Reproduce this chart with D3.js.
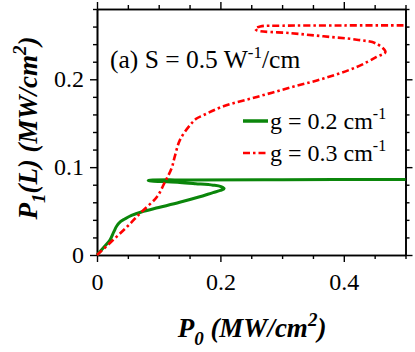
<!DOCTYPE html>
<html><head><meta charset="utf-8">
<script src="https://cdn.jsdelivr.net/npm/d3@7"></script>
<style>
body{margin:0;background:#fff}
svg{display:block}
text{font-family:"Liberation Serif","Times New Roman",serif;fill:#000}
</style>
</head><body>
<svg id="c" width="415" height="352"></svg>
<script>
// ---- data ----
const xMajorTicks = [0, 0.2, 0.4];
const xMinorTicks = [0.05, 0.1, 0.15, 0.25, 0.3, 0.35, 0.45, 0.5];
const yMajorTicks = [0, 0.1, 0.2];
const yMinorTicks = [0.02, 0.04, 0.06, 0.08, 0.12, 0.14, 0.16, 0.18, 0.22, 0.24, 0.26, 0.28];

const seriesNames = ["g = 0.2 cm", "g = 0.3 cm"];

// g = 0.2 cm^-1 (green, solid): points along the curve (P0, P1)
const greenP0 = [0, 0.010, 0.021, 0.027, 0.032, 0.038, 0.045, 0.056, 0.072, 0.100, 0.134, 0.165, 0.188, 0.200, 0.206, 0.201, 0.188, 0.160, 0.134, 0.105, 0.088, 0.083, 0.090, 0.150, 0.300, 0.500];
const greenP1 = [0, 0.008, 0.017, 0.026, 0.033, 0.038, 0.041, 0.045, 0.049, 0.054, 0.060, 0.066, 0.071, 0.0735, 0.0755, 0.0778, 0.0795, 0.0812, 0.0826, 0.0836, 0.0842, 0.0848, 0.0853, 0.0855, 0.0857, 0.0860];

// g = 0.3 cm^-1 (red, dash-dot)
const redP0 = [0, 0.026, 0.050, 0.072, 0.097, 0.110, 0.121, 0.126, 0.1345, 0.151, 0.1614, 0.172, 0.205, 0.259, 0.3127, 0.367, 0.421, 0.453, 0.4675, 0.453, 0.421, 0.367, 0.313, 0.259, 0.2565, 0.2646, 0.300, 0.400, 0.500];
const redP1 = [0, 0.017, 0.033, 0.049, 0.066, 0.083, 0.099, 0.112, 0.131, 0.148, 0.1553, 0.159, 0.1693, 0.1799, 0.1905, 0.2008, 0.2140, 0.2254, 0.2311, 0.2405, 0.2451, 0.2489, 0.2526, 0.2557, 0.2576, 0.2602, 0.2610, 0.2613, 0.2614];

// ---- layout ----
const FONT = '"Liberation Serif","Times New Roman",serif';
const svg = d3.select("#c");
const L = 97, R = 405.5, T = 9, B = 255;
const x = d3.scaleLinear().domain([0, 0.5]).range([L, R]);
const y = d3.scaleLinear().domain([0, 0.28]).range([B, T]);

const fmt = d => d === 0 ? "0" : d3.format(".1f")(d);

function styleAxis(g){
  g.attr("font-family", null).style("font-family", FONT);
  g.selectAll("path.domain").attr("stroke","#000").attr("stroke-width",1.6);
  g.selectAll(".tick line").attr("stroke","#000").attr("stroke-width",1.4);
  g.selectAll(".tick text").style("font-family", FONT).style("font-size","24px").attr("fill","#000");
}

// bottom
svg.append("g").attr("transform",`translate(0,${B})`)
  .call(d3.axisBottom(x).tickValues(xMinorTicks).tickSize(4).tickSizeOuter(0).tickFormat(""))
  .call(styleAxis);
const gb = svg.append("g").attr("transform",`translate(0,${B})`)
  .call(d3.axisBottom(x).tickValues(xMajorTicks).tickSize(7).tickSizeOuter(0).tickPadding(6).tickFormat(fmt))
  .call(styleAxis);
gb.selectAll(".tick text").attr("dy","0.9em");
// top
svg.append("g").attr("transform",`translate(0,${T})`)
  .call(d3.axisTop(x).tickValues(xMinorTicks).tickSize(4).tickSizeOuter(0).tickFormat(""))
  .call(styleAxis);
svg.append("g").attr("transform",`translate(0,${T})`)
  .call(d3.axisTop(x).tickValues(xMajorTicks).tickSize(7).tickSizeOuter(0).tickFormat(""))
  .call(styleAxis);
// left
svg.append("g").attr("transform",`translate(${L},0)`)
  .call(d3.axisLeft(y).tickValues(yMinorTicks).tickSize(4).tickSizeOuter(0).tickFormat(""))
  .call(styleAxis);
svg.append("g").attr("transform",`translate(${L},0)`)
  .call(d3.axisLeft(y).tickValues(yMajorTicks).tickSize(7).tickSizeOuter(0).tickPadding(6).tickFormat(fmt))
  .call(styleAxis);
// right
svg.append("g").attr("transform",`translate(${R},0)`)
  .call(d3.axisRight(y).tickValues(yMinorTicks).tickSize(4).tickSizeOuter(0).tickFormat(""))
  .call(styleAxis);
svg.append("g").attr("transform",`translate(${R},0)`)
  .call(d3.axisRight(y).tickValues(yMajorTicks).tickSize(7).tickSizeOuter(0).tickFormat(""))
  .call(styleAxis);

// ---- curves ----
const line = d3.line().x(d => x(d[0])).y(d => y(d[1])).curve(d3.curveCatmullRom.alpha(0.5));
const greenPts = greenP0.map((v,i) => [v, greenP1[i]]);
const redPts = redP0.map((v,i) => [v, redP1[i]]);

svg.append("path").datum(greenPts).attr("d", line)
  .attr("fill","none").attr("stroke","#0b860b").attr("stroke-width",3);
svg.append("path").datum(redPts).attr("d", line)
  .attr("fill","none").attr("stroke","#ff0000").attr("stroke-width",2.6)
  .attr("stroke-dasharray","7,3,2.5,3");

// ---- annotation ----
const ann = svg.append("text").attr("x",110).attr("y",68).attr("font-size",25.5);
ann.append("tspan").text("(a) S = 0.5 W");
ann.append("tspan").attr("dy",-10).attr("font-size",17).text("-1");
ann.append("tspan").attr("dy",10).text("/cm");

// ---- legend ----
const legY = [121, 153];
svg.append("line").attr("x1",243).attr("x2",268).attr("y1",legY[0]).attr("y2",legY[0])
  .attr("stroke","#0b860b").attr("stroke-width",3.5);
svg.append("line").attr("x1",243).attr("x2",268).attr("y1",legY[1]).attr("y2",legY[1])
  .attr("stroke","#ff0000").attr("stroke-width",2.6).attr("stroke-dasharray","7,3,2.5,3");
seriesNames.forEach((nm,i) => {
  const t = svg.append("text").attr("x",270).attr("y",legY[i]+8).attr("font-size",24);
  t.append("tspan").text(nm);
  t.append("tspan").attr("dy",-10).attr("font-size",16).text("-1");
});

// ---- axis titles ----
const xt = svg.append("text").attr("x",252).attr("y",337).attr("text-anchor","middle")
  .attr("font-size",27).attr("font-weight","bold").attr("font-style","italic");
xt.append("tspan").text("P");
xt.append("tspan").attr("dy",8).attr("font-size",19).text("0");
xt.append("tspan").attr("dy",-8).text(" (MW/cm");
xt.append("tspan").attr("dy",-11).attr("font-size",19).text("2");
xt.append("tspan").attr("dy",11).text(")");

const yt = svg.append("text").attr("transform","translate(37,128) rotate(-90)").attr("text-anchor","middle")
  .attr("font-size",27).attr("font-weight","bold").attr("font-style","italic");
yt.append("tspan").text("P");
yt.append("tspan").attr("dy",8).attr("font-size",19).text("1");
yt.append("tspan").attr("dy",-8).text("(L) (MW/cm");
yt.append("tspan").attr("dy",-11).attr("font-size",19).text("2");
yt.append("tspan").attr("dy",11).text(")");
</script>
</body></html>
